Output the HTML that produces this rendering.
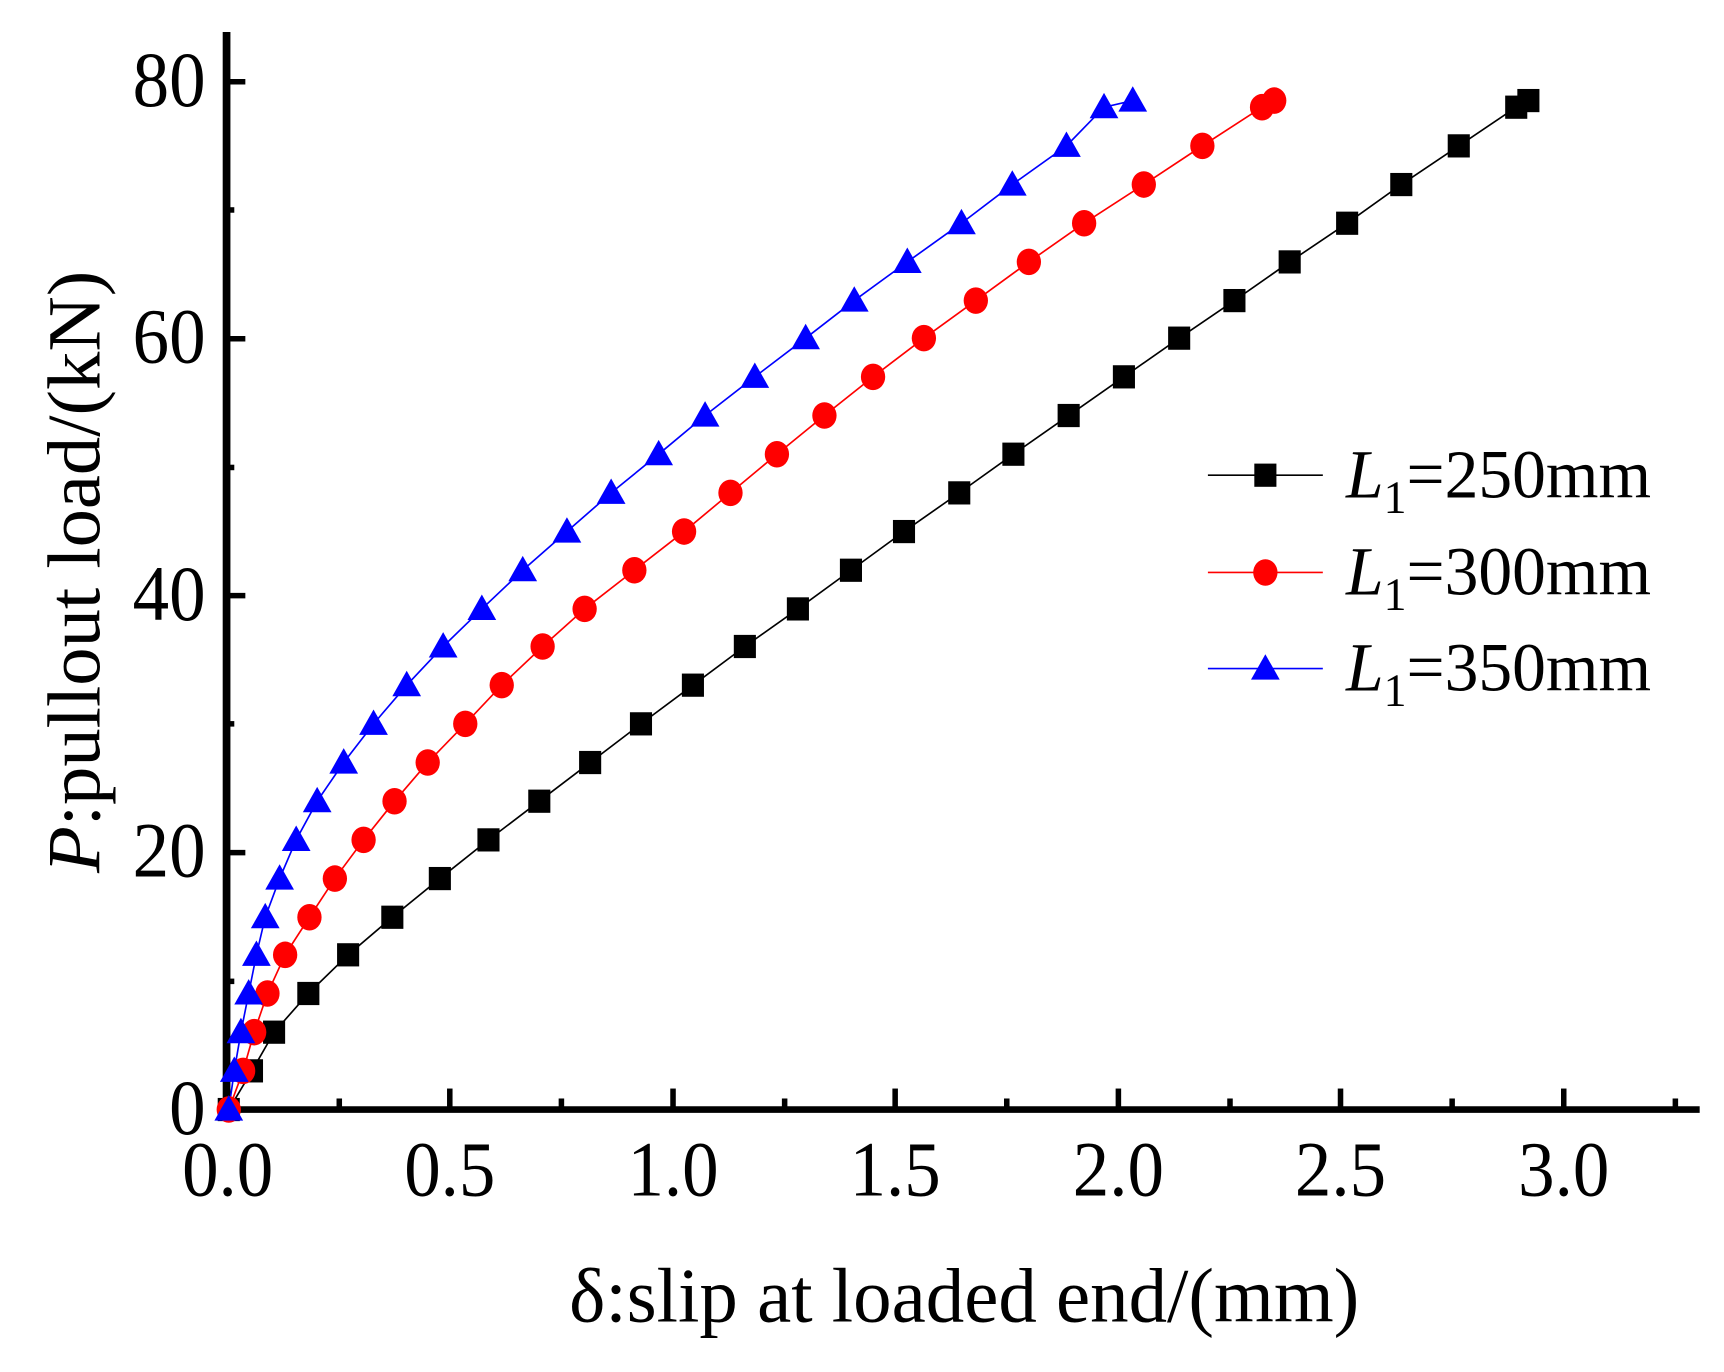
<!DOCTYPE html>
<html><head><meta charset="utf-8"><style>
html,body{margin:0;padding:0;background:#fff;}
svg{display:block;}
text{font-family:"Liberation Serif",serif;fill:#000;}
</style></head><body>
<svg width="1724" height="1372" viewBox="0 0 1560 1241.5" xmlns="http://www.w3.org/2000/svg">
<defs>
<rect id="sq" x="-10" y="-10.5" width="20" height="21" fill="#000"/>
<ellipse id="ci" rx="11" ry="12" fill="#f00"/>
<polygon id="tr" points="0,-13 13,10 -13,10" fill="#00f"/>
</defs>
<line x1="205" y1="29" x2="205" y2="1007" stroke="#000" stroke-width="7"/>
<line x1="201" y1="1004" x2="1538" y2="1004" stroke="#000" stroke-width="6"/>
<g stroke="#000" stroke-width="5">
<line x1="206" y1="1004" x2="206" y2="985"/>
<line x1="307" y1="1004" x2="307" y2="994"/>
<line x1="407" y1="1004" x2="407" y2="985"/>
<line x1="508" y1="1004" x2="508" y2="994"/>
<line x1="609" y1="1004" x2="609" y2="985"/>
<line x1="710" y1="1004" x2="710" y2="994"/>
<line x1="810" y1="1004" x2="810" y2="985"/>
<line x1="911" y1="1004" x2="911" y2="994"/>
<line x1="1012" y1="1004" x2="1012" y2="985"/>
<line x1="1113" y1="1004" x2="1113" y2="994"/>
<line x1="1213" y1="1004" x2="1213" y2="985"/>
<line x1="1314" y1="1004" x2="1314" y2="994"/>
<line x1="1415" y1="1004" x2="1415" y2="985"/>
<line x1="1516" y1="1004" x2="1516" y2="994"/>
<line x1="205" y1="74" x2="222" y2="74"/>
<line x1="205" y1="190" x2="212" y2="190"/>
<line x1="205" y1="306.5" x2="222" y2="306.5"/>
<line x1="205" y1="423" x2="212" y2="423"/>
<line x1="205" y1="539" x2="222" y2="539"/>
<line x1="205" y1="655" x2="212" y2="655"/>
<line x1="205" y1="771.5" x2="222" y2="771.5"/>
<line x1="205" y1="888" x2="212" y2="888"/>
</g>
<g font-size="66" text-anchor="end">
<text transform="translate(186,96) scale(1,1.08)">80</text>
<text transform="translate(186,328) scale(1,1.08)">60</text>
<text transform="translate(186,561) scale(1,1.08)">40</text>
<text transform="translate(186,793) scale(1,1.08)">20</text>
<text transform="translate(186,1026) scale(1,1.08)">0</text>
</g>
<g font-size="66" text-anchor="middle">
<text transform="translate(206,1082) scale(1,1.08)">0.0</text>
<text transform="translate(407,1082) scale(1,1.08)">0.5</text>
<text transform="translate(609,1082) scale(1,1.08)">1.0</text>
<text transform="translate(810,1082) scale(1,1.08)">1.5</text>
<text transform="translate(1012,1082) scale(1,1.08)">2.0</text>
<text transform="translate(1213,1082) scale(1,1.08)">2.5</text>
<text transform="translate(1415,1082) scale(1,1.08)">3.0</text>
</g>
<text x="515" y="1196" font-size="70" textLength="715" lengthAdjust="spacingAndGlyphs">δ:slip at loaded end/(mm)</text>
<text transform="translate(90,790) rotate(-90)" font-size="68" textLength="545" lengthAdjust="spacingAndGlyphs"><tspan font-style="italic">P</tspan>:pullout load/(kN)</text>
<polyline fill="none" stroke="#000" stroke-width="1.5" points="207,1004 228,969 248,934 279,899 315,864 355,830 398,795 442,760 488,725 534,690 580,655 627,620 674,585 722,551 770,516 818,481 868,446 917,411 967,376 1017,341 1067,306 1117,272 1167,237 1219,202 1268,167 1320,132 1372,97 1383,91"/>
<polyline fill="none" stroke="#f00" stroke-width="1.5" points="207,1004 220,969 230,934 242,899 258,864 280,830 303,795 329,760 357,725 387,690 421,655 454,620 491,585 529,551 574,516 619,481 661,446 703,411 746,376 790,341 836,306 883,272 931,237 981,202 1035,167 1088,132 1142,97 1153,91"/>
<polyline fill="none" stroke="#00f" stroke-width="1.5" points="207,1004 212,969 218,934 225,899 232,864 240,830 253,795 268,760 287,725 311,690 338,655 368,620 401,585 436,551 473,516 513,481 553,446 596,411 638,376 683,341 729,306 773,272 821,237 870,202 916,167 965,132 999,97 1025,91"/>
<g>
<use href="#sq" x="207" y="1004"/><use href="#sq" x="228" y="969"/><use href="#sq" x="248" y="934"/><use href="#sq" x="279" y="899"/><use href="#sq" x="315" y="864"/><use href="#sq" x="355" y="830"/><use href="#sq" x="398" y="795"/><use href="#sq" x="442" y="760"/><use href="#sq" x="488" y="725"/><use href="#sq" x="534" y="690"/><use href="#sq" x="580" y="655"/><use href="#sq" x="627" y="620"/><use href="#sq" x="674" y="585"/><use href="#sq" x="722" y="551"/><use href="#sq" x="770" y="516"/><use href="#sq" x="818" y="481"/><use href="#sq" x="868" y="446"/><use href="#sq" x="917" y="411"/><use href="#sq" x="967" y="376"/><use href="#sq" x="1017" y="341"/><use href="#sq" x="1067" y="306"/><use href="#sq" x="1117" y="272"/><use href="#sq" x="1167" y="237"/><use href="#sq" x="1219" y="202"/><use href="#sq" x="1268" y="167"/><use href="#sq" x="1320" y="132"/><use href="#sq" x="1372" y="97"/><use href="#sq" x="1383" y="91"/>
</g>
<g>
<use href="#ci" x="207" y="1004"/><use href="#ci" x="220" y="969"/><use href="#ci" x="230" y="934"/><use href="#ci" x="242" y="899"/><use href="#ci" x="258" y="864"/><use href="#ci" x="280" y="830"/><use href="#ci" x="303" y="795"/><use href="#ci" x="329" y="760"/><use href="#ci" x="357" y="725"/><use href="#ci" x="387" y="690"/><use href="#ci" x="421" y="655"/><use href="#ci" x="454" y="620"/><use href="#ci" x="491" y="585"/><use href="#ci" x="529" y="551"/><use href="#ci" x="574" y="516"/><use href="#ci" x="619" y="481"/><use href="#ci" x="661" y="446"/><use href="#ci" x="703" y="411"/><use href="#ci" x="746" y="376"/><use href="#ci" x="790" y="341"/><use href="#ci" x="836" y="306"/><use href="#ci" x="883" y="272"/><use href="#ci" x="931" y="237"/><use href="#ci" x="981" y="202"/><use href="#ci" x="1035" y="167"/><use href="#ci" x="1088" y="132"/><use href="#ci" x="1142" y="97"/><use href="#ci" x="1153" y="91"/>
</g>
<g>
<use href="#tr" x="207" y="1004"/><use href="#tr" x="212" y="969"/><use href="#tr" x="218" y="934"/><use href="#tr" x="225" y="899"/><use href="#tr" x="232" y="864"/><use href="#tr" x="240" y="830"/><use href="#tr" x="253" y="795"/><use href="#tr" x="268" y="760"/><use href="#tr" x="287" y="725"/><use href="#tr" x="311" y="690"/><use href="#tr" x="338" y="655"/><use href="#tr" x="368" y="620"/><use href="#tr" x="401" y="585"/><use href="#tr" x="436" y="551"/><use href="#tr" x="473" y="516"/><use href="#tr" x="513" y="481"/><use href="#tr" x="553" y="446"/><use href="#tr" x="596" y="411"/><use href="#tr" x="638" y="376"/><use href="#tr" x="683" y="341"/><use href="#tr" x="729" y="306"/><use href="#tr" x="773" y="272"/><use href="#tr" x="821" y="237"/><use href="#tr" x="870" y="202"/><use href="#tr" x="916" y="167"/><use href="#tr" x="965" y="132"/><use href="#tr" x="999" y="97"/><use href="#tr" x="1025" y="91"/>
</g>
<line x1="1093" y1="430" x2="1197" y2="430" stroke="#000" stroke-width="1.5"/>
<use href="#sq" x="1145" y="430"/>
<line x1="1093" y1="518" x2="1197" y2="518" stroke="#f00" stroke-width="1.5"/>
<use href="#ci" x="1145" y="518"/>
<line x1="1093" y1="605" x2="1197" y2="605" stroke="#00f" stroke-width="1.5"/>
<use href="#tr" x="1145" y="605"/>
<g font-size="62">
<text x="1218" y="450" textLength="276" lengthAdjust="spacingAndGlyphs"><tspan font-style="italic">L</tspan><tspan font-size="42" dy="14">1</tspan><tspan dy="-14">=250mm</tspan></text>
<text x="1218" y="538" textLength="276" lengthAdjust="spacingAndGlyphs"><tspan font-style="italic">L</tspan><tspan font-size="42" dy="14">1</tspan><tspan dy="-14">=300mm</tspan></text>
<text x="1218" y="625" textLength="276" lengthAdjust="spacingAndGlyphs"><tspan font-style="italic">L</tspan><tspan font-size="42" dy="14">1</tspan><tspan dy="-14">=350mm</tspan></text>
</g>
</svg>
</body></html>
